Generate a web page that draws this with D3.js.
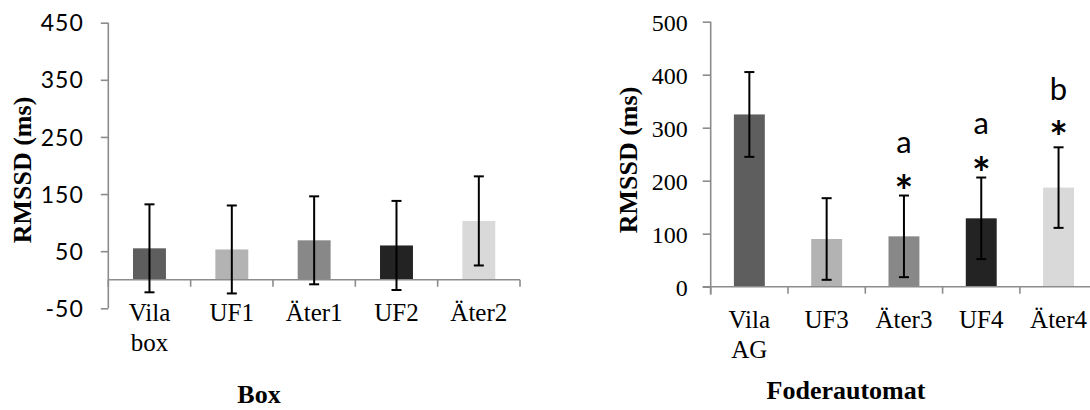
<!DOCTYPE html>
<html>
<head>
<meta charset="utf-8">
<script src="https://cdn.jsdelivr.net/npm/d3@7"></script>
<style>
  html, body { margin: 0; padding: 0; background: #ffffff; }
  svg { display: block; }
</style>
</head>
<body>
<svg id="chart" width="1090" height="410"></svg>
<script>
// ---- Data ----
const boxCategories = [["Vila", "box"], ["UF1"], ["Äter1"], ["UF2"], ["Äter2"]];
const boxMeans = [55, 53, 69, 60, 103];
const boxErrors = [77, 77, 77, 78, 78];
const boxTicks = [-50, 50, 150, 250, 350, 450];

const autoCategories = [["Vila", "AG"], ["UF3"], ["Äter3"], ["UF4"], ["Äter4"]];
const autoMeans = [325, 90, 95, 129, 187];
const autoErrors = [80, 77, 77, 77, 76];
const autoTicks = [0, 100, 200, 300, 400, 500];
const autoLetters = ["", "", "a", "a", "b"];
const autoStars = [false, false, true, true, true];
// annotation positions in data units (RMSSD)
const autoStarAt = [null, null, 200, 234, 301];
const autoLetterAt = [null, null, 253, 289, 353];

const barColors = ["#5e5e5e", "#b3b3b3", "#888888", "#232323", "#d9d9d9"];

const yLabel = "RMSSD (ms)";
const titles = ["Box", "Foderautomat"];

// ---- Drawing ----
const svg = d3.select("#chart");
const axisColor = "#8c8c8c";
const serif = "'Liberation Serif', 'Times New Roman', serif";
const sans = "Lato, 'Open Sans', sans-serif";

function drawPanel(cfg) {
  const g = svg.append("g");
  const x = d3.scaleBand().domain(d3.range(cfg.means.length))
    .range([cfg.x0, cfg.x1]).paddingInner(0.6).paddingOuter(0.3);
  const xb = d3.scaleBand().domain(d3.range(cfg.means.length))
    .range([cfg.x0, cfg.x1]).padding(0);
  const y = d3.scaleLinear().domain(cfg.domain).range([cfg.yBottom, cfg.yTop]);
  const y0 = y(0);

  // y axis
  const yAxis = d3.axisLeft(y).tickValues(cfg.ticks).tickSize(cfg.tickLen).tickFormat(d => String(d));
  const ya = g.append("g").attr("transform", `translate(${cfg.x0},0)`).call(yAxis);
  ya.attr("font-size", null).attr("font-family", null);
  ya.select(".domain").attr("stroke", axisColor).attr("stroke-width", 1.6)
    .attr("d", `M0,${y(cfg.domain[1])}V${Math.max(y(cfg.domain[0]), y0 + 8)}`);
  ya.selectAll(".tick line").attr("stroke", axisColor).attr("stroke-width", 1.6);
  ya.selectAll(".tick text")
    .attr("x", -(cfg.tickLen + cfg.labelGap))
    .style("font-family", cfg.tickFont).style("font-size", cfg.tickSize + "px")
    .style("letter-spacing", cfg.tickSpacing + "px")
    .attr("fill", "#000").attr("dy", "0.35em");

  // bars
  g.selectAll("rect.bar").data(cfg.means).enter().append("rect")
    .attr("x", (d, i) => x(i)).attr("width", x.bandwidth())
    .attr("y", d => y(d)).attr("height", d => y0 - y(d))
    .attr("fill", (d, i) => barColors[i]);

  // x axis line at zero
  const xa = g.append("g").attr("transform", `translate(0,${y0})`)
    .call(d3.axisBottom(xb).tickSize(0).tickFormat(""));
  xa.select(".domain").attr("stroke", axisColor).attr("stroke-width", 1.6)
    .attr("d", `M${cfg.xAxisStart},0H${cfg.x1}`);
  xa.selectAll(".tick").remove();
  const bounds = d3.range(cfg.means.length + 1).map(i => cfg.x0 + i * xb.step());
  xa.selectAll("line.ct").data(bounds).enter().append("line")
    .attr("x1", d => d).attr("x2", d => d).attr("y1", 0).attr("y2", 7)
    .attr("stroke", axisColor).attr("stroke-width", 1.6);

  // error bars
  const cap = 5;
  cfg.means.forEach((m, i) => {
    const cx = x(i) + x.bandwidth() / 2;
    const hi = y(m + cfg.errors[i]), lo = y(m - cfg.errors[i]);
    const eg = g.append("g").attr("stroke", "#000").attr("stroke-width", 2);
    eg.append("line").attr("x1", cx).attr("x2", cx).attr("y1", hi).attr("y2", lo);
    eg.append("line").attr("x1", cx - cap).attr("x2", cx + cap).attr("y1", hi).attr("y2", hi);
    eg.append("line").attr("x1", cx - cap).attr("x2", cx + cap).attr("y1", lo).attr("y2", lo);
  });

  // category labels
  cfg.categories.forEach((lines, i) => {
    const cx = xb(i) + xb.step() / 2;
    const t = g.append("text").attr("text-anchor", "middle")
      .attr("font-family", serif).attr("font-size", 25).attr("fill", "#000");
    lines.forEach((ln, k) => {
      t.append("tspan").attr("x", cx).attr("y", y0 + 41 + k * 30).text(ln);
    });
  });

  // annotations
  if (cfg.letters) {
    cfg.means.forEach((m, i) => {
      const cx = x(i) + x.bandwidth() / 2;
      if (cfg.stars[i]) {
        g.append("text").attr("x", cx).attr("y", y(cfg.starAt[i]) + 26)
          .attr("text-anchor", "middle").attr("font-family", sans)
          .attr("font-size", 44).attr("font-weight", "bold")
          .attr("fill", "#000").text("*");
      }
      if (cfg.letters[i]) {
        g.append("text").attr("x", cx).attr("y", y(cfg.letterAt[i]))
          .attr("text-anchor", "middle").attr("font-family", sans)
          .attr("font-size", 31).attr("fill", "#000").text(cfg.letters[i]);
      }
    });
  }

  // y label
  g.append("text")
    .attr("transform", `translate(${cfg.yLabelX},${cfg.yLabelY}) rotate(-90)`)
    .attr("text-anchor", "middle").attr("dominant-baseline", "central")
    .attr("font-family", serif).attr("font-weight", "bold").attr("font-size", 26)
    .attr("fill", "#000").text(yLabel);

  // title
  g.append("text").attr("x", cfg.titleX).attr("y", cfg.titleY)
    .attr("text-anchor", "middle").attr("font-family", serif)
    .attr("font-weight", "bold").attr("font-size", 26).attr("fill", "#000")
    .text(cfg.title);
}

drawPanel({
  means: boxMeans, errors: boxErrors, categories: boxCategories, ticks: boxTicks,
  domain: [-50, 450], x0: 108.3, x1: 520, xAxisStart: 108.3,
  yTop: 22.7, yBottom: 308.3, tickLen: 7.5, labelGap: 17,
  tickFont: sans, tickSize: 23, tickSpacing: 1,
  yLabelX: 22.5, yLabelY: 170, title: titles[0], titleX: 259, titleY: 403
});

drawPanel({
  means: autoMeans, errors: autoErrors, categories: autoCategories, ticks: autoTicks,
  domain: [0, 500], x0: 710.7, x1: 710.7 + 5 * 77.3, xAxisStart: 702.7,
  yTop: 21.7, yBottom: 286.7, tickLen: 8, labelGap: 15,
  tickFont: serif, tickSize: 24, tickSpacing: 0,
  letters: autoLetters, stars: autoStars, starAt: autoStarAt, letterAt: autoLetterAt,
  yLabelX: 628, yLabelY: 160, title: titles[1], titleX: 846, titleY: 399
});
</script>
</body>
</html>
